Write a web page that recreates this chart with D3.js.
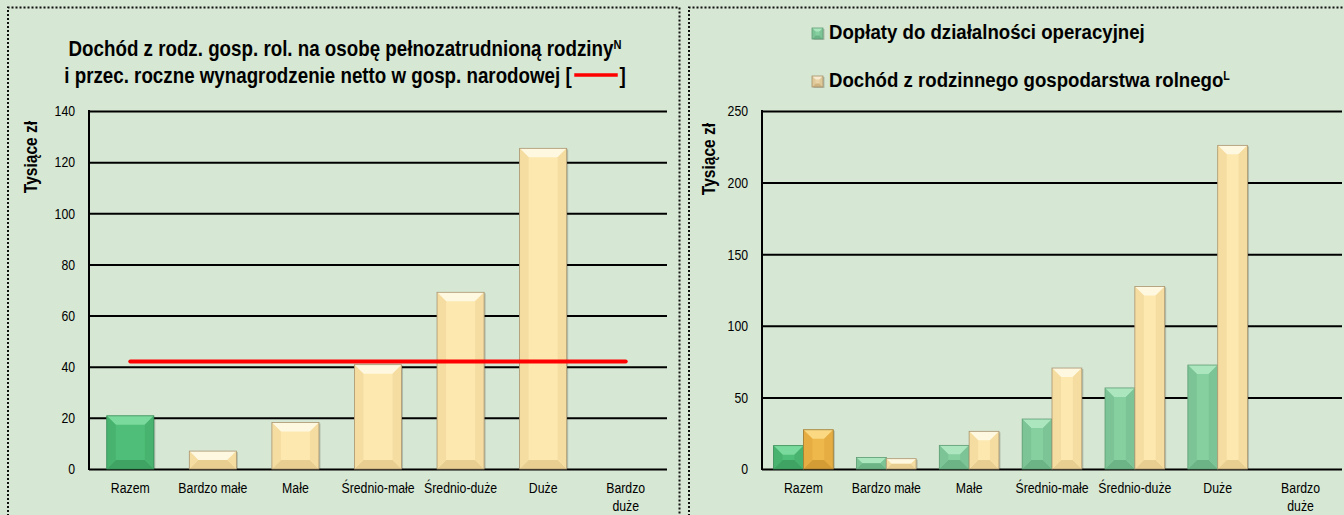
<!DOCTYPE html>
<html>
<head>
<meta charset="utf-8">
<script src="https://cdn.jsdelivr.net/npm/d3@7"></script>
<style>
  body { margin: 0; background: #d6e7d3; }
  svg text { font-family: "Liberation Sans", Arial, sans-serif; fill: #000; }
</style>
</head>
<body>
<div id="chart"></div>
<script>
// categories (farm economic size classes)
const categories = ['Razem', 'Bardzo małe', 'Małe', 'Średnio-małe', 'Średnio-duże', 'Duże', 'Bardzo duże'];

// left chart: income per full-time family worker, thousand zł
const incomePerWorker = [20.8, 7.0, 18.2, 40.8, 69.1, 125.4, null];
const netWage = 42.0; // average annual net wage in national economy
const leftTicks = [0, 20, 40, 60, 80, 100, 120, 140];

// right chart: subsidies and family farm income, thousand zł
const subsidies = [16.3, 8.1, 16.5, 34.9, 56.6, 72.6, null];
const farmIncome = [27.4, 7.2, 26.3, 70.5, 127.5, 226.0, null];
const rightTicks = [0, 50, 100, 150, 200, 250];

const width = 1344;
const height = 515;
const narrow = 0.82; // no Arial Narrow here, so squeeze Liberation Sans

const svg = d3.select('#chart')
  .append('svg')
  .attr('width', width)
  .attr('height', height);

svg.append('rect').attr('width', width).attr('height', height).attr('fill', '#d6e7d3');

// dotted panel borders
function panelBorder(x0, x1, closeRight) {
  const p = d3.path();
  p.moveTo(x0, height + 5);
  p.lineTo(x0, 7.5);
  p.lineTo(x1, 7.5);
  if (closeRight) p.lineTo(x1, height + 5);
  svg.append('path')
    .attr('d', p.toString())
    .attr('fill', 'none')
    .attr('stroke', '#111')
    .attr('stroke-width', 2)
    .attr('stroke-dasharray', '2,2');
}
panelBorder(8, 679.5, true);
panelBorder(689, width + 5, false);

// text squeezed horizontally around its anchor
function ntext(parent, x, y, size, anchor) {
  return parent.append('text')
    .attr('transform', `translate(${x},${y}) scale(${narrow},1)`)
    .attr('text-anchor', anchor || 'start')
    .attr('font-size', size);
}

// colour sets for bevelled bars
const palettes = {
  greenDark: { base: '#4fbe78', top: '#7ad99d', side: '#48b26f', bottom: '#3ea363', edge: '#3a8d58' },
  greenLight: { base: '#86cf9f', top: '#abe6bf', side: '#7cc495', bottom: '#6cb385', edge: '#5f9c74' },
  cream: { base: '#fde8b0', top: '#fff8e0', side: '#f5dda1', bottom: '#e8ce90', edge: '#a89470' },
  orange: { base: '#efb84a', top: '#fad982', side: '#e6ad42', bottom: '#d49c35', edge: '#9c7a34' },
  legendCream: { base: '#e9d3a6', top: '#f8ead0', side: '#e0c999', bottom: '#cfb482', edge: '#a58f68' }
};

function bevelBar(g, x, y, w, h, pal) {
  if (h <= 0) return;
  const b = Math.min(9, w / 3.2, h / 2);
  const bar = g.append('g');
  bar.append('rect')
    .attr('x', x + 1.5).attr('y', y + 1)
    .attr('width', w).attr('height', h)
    .attr('fill', 'rgba(0,0,0,0.18)');
  bar.append('rect')
    .attr('x', x).attr('y', y)
    .attr('width', w).attr('height', h)
    .attr('fill', pal.base);
  const pts = (arr) => arr.map((p) => p.join(',')).join(' ');
  bar.append('polygon')
    .attr('points', pts([[x, y], [x + w, y], [x + w - b, y + b], [x + b, y + b]]))
    .attr('fill', pal.top);
  bar.append('polygon')
    .attr('points', pts([[x, y + h], [x + w, y + h], [x + w - b, y + h - b], [x + b, y + h - b]]))
    .attr('fill', pal.bottom);
  bar.append('polygon')
    .attr('points', pts([[x, y], [x + b, y + b], [x + b, y + h - b], [x, y + h]]))
    .attr('fill', pal.side);
  bar.append('polygon')
    .attr('points', pts([[x + w, y], [x + w - b, y + b], [x + w - b, y + h - b], [x + w, y + h]]))
    .attr('fill', pal.side);
  bar.append('rect')
    .attr('x', x).attr('y', y)
    .attr('width', w).attr('height', h)
    .attr('fill', 'none')
    .attr('stroke', pal.edge)
    .attr('stroke-width', 0.8);
}

function drawFrame(left, right, top, bottom, maxVal, ticks, titleX, titleY) {
  const x = d3.scaleBand().domain(categories).range([left, right]);
  const y = d3.scaleLinear().domain([0, maxVal]).range([bottom, top]);

  // gridlines
  svg.append('g')
    .attr('transform', `translate(${left},0)`)
    .call(d3.axisLeft(y).tickValues(ticks).tickSize(-(right - left)).tickFormat(''))
    .call((g) => g.select('.domain').remove())
    .call((g) => g.selectAll('.tick line').attr('stroke', '#000').attr('stroke-width', 2));

  // y tick labels
  svg.append('g')
    .attr('transform', `translate(${left},0)`)
    .call(d3.axisLeft(y).tickValues(ticks).tickSize(0).tickPadding(17))
    .call((g) => g.select('.domain').remove())
    .call((g) => g.selectAll('text')
      .attr('font-size', 15)
      .attr('fill', '#000')
      .attr('transform', `scale(${narrow},1)`)
      .style('font-family', '"Liberation Sans", Arial, sans-serif'));

  // y axis line
  svg.append('line')
    .attr('x1', left).attr('x2', left)
    .attr('y1', top - 1).attr('y2', bottom + 1)
    .attr('stroke', '#000').attr('stroke-width', 2);

  // x labels
  const xl = svg.append('g');
  categories.forEach((c) => {
    const cx = x(c) + x.bandwidth() / 2;
    const t = ntext(xl, cx, bottom + 24, 15, 'middle');
    if (c === 'Bardzo duże') {
      t.append('tspan').attr('x', 0).text('Bardzo');
      t.append('tspan').attr('x', 0).attr('dy', 18).text('duże');
    } else {
      t.text(c);
    }
  });

  // y title
  svg.append('text')
    .attr('transform', `translate(${titleX},${titleY}) rotate(-90) scale(${narrow},1)`)
    .attr('text-anchor', 'middle')
    .attr('font-size', 19)
    .attr('font-weight', 'bold')
    .text('Tysiące zł');

  return { x, y };
}

// ----- left chart -----
const L = { left: 89, right: 667, top: 111, bottom: 469 };
const left = drawFrame(L.left, L.right, L.top, L.bottom, 140, leftTicks, 37, 157);
const leftBars = svg.append('g');
categories.forEach((c, i) => {
  const v = incomePerWorker[i];
  if (v == null) return;
  const bw = left.x.bandwidth() * 0.57;
  const bx = left.x(c) + (left.x.bandwidth() - bw) / 2;
  bevelBar(leftBars, bx, left.y(v), bw, left.y(0) - left.y(v), i === 0 ? palettes.greenDark : palettes.cream);
});

// wage line from first to last category centre
svg.append('line')
  .attr('x1', left.x(categories[0]) + left.x.bandwidth() / 2)
  .attr('x2', left.x(categories[categories.length - 1]) + left.x.bandwidth() / 2)
  .attr('y1', left.y(netWage)).attr('y2', left.y(netWage))
  .attr('stroke', '#ff0000')
  .attr('stroke-width', 4)
  .attr('stroke-linecap', 'round');

// left title, squeezed to the reference width
const titleG = svg.append('g');
const title1 = titleG.append('text')
  .attr('x', 0).attr('y', 56)
  .attr('text-anchor', 'middle')
  .attr('font-size', 22)
  .attr('font-weight', 'bold');
title1.append('tspan').text('Dochód z rodz. gosp. rol. na osobę pełnozatrudnioną rodziny');
title1.append('tspan').attr('font-size', 13).attr('dy', -7).text('N');
const titleScale = 553 / title1.node().getComputedTextLength();
titleG.attr('transform', `translate(345,0) scale(${titleScale},1)`);

const title2 = titleG.append('text')
  .attr('x', 0).attr('y', 83)
  .attr('text-anchor', 'middle')
  .attr('font-size', 22)
  .attr('font-weight', 'bold');
const line2 = 'i przec. roczne wynagrodzenie netto w gosp. narodowej [';
title2.append('tspan').text(line2);
title2.append('tspan').attr('dx', 56).text(']');
const bracketEnd = title2.node().getEndPositionOfChar(line2.length - 1).x;
titleG.append('line')
  .attr('x1', bracketEnd + 3).attr('x2', bracketEnd + 54)
  .attr('y1', 75).attr('y2', 75)
  .attr('stroke', '#ff0000')
  .attr('stroke-width', 3.5);

// ----- right chart -----
const R = { left: 762, right: 1342, top: 111, bottom: 469 };
const right = drawFrame(R.left, R.right, R.top, R.bottom, 250, rightTicks, 715, 159);
const rightBars = svg.append('g');
categories.forEach((c, i) => {
  const bw = right.x.bandwidth() * 0.36;
  const gx = right.x(c) + (right.x.bandwidth() - 2 * bw) / 2;
  const s = subsidies[i];
  const f = farmIncome[i];
  if (s != null) {
    bevelBar(rightBars, gx, right.y(s), bw, right.y(0) - right.y(s), i === 0 ? palettes.greenDark : palettes.greenLight);
  }
  if (f != null) {
    bevelBar(rightBars, gx + bw, right.y(f), bw, right.y(0) - right.y(f), i === 0 ? palettes.orange : palettes.cream);
  }
});

// legend
const legendItems = [
  { label: 'Dopłaty do działalności operacyjnej', sup: '', pal: palettes.greenLight, y: 39 },
  { label: 'Dochód z rodzinnego gospodarstwa rolnego', sup: 'L', pal: palettes.legendCream, y: 87 }
];
const legend = svg.append('g');
const legendTexts = legendItems.map((d) => {
  bevelBar(legend, 812, d.y - 11, 11, 11, d.pal);
  const t = legend.append('text')
    .attr('x', 0).attr('y', d.y)
    .attr('font-size', 21)
    .attr('font-weight', 'bold');
  t.append('tspan').text(d.label);
  if (d.sup) t.append('tspan').attr('font-size', 12).attr('dy', -7).text(d.sup);
  return t;
});
const legendScale = 316 / legendTexts[0].node().getComputedTextLength();
legendTexts.forEach((t) => t.attr('transform', `translate(829,0) scale(${legendScale},1)`));
</script>
</body>
</html>
